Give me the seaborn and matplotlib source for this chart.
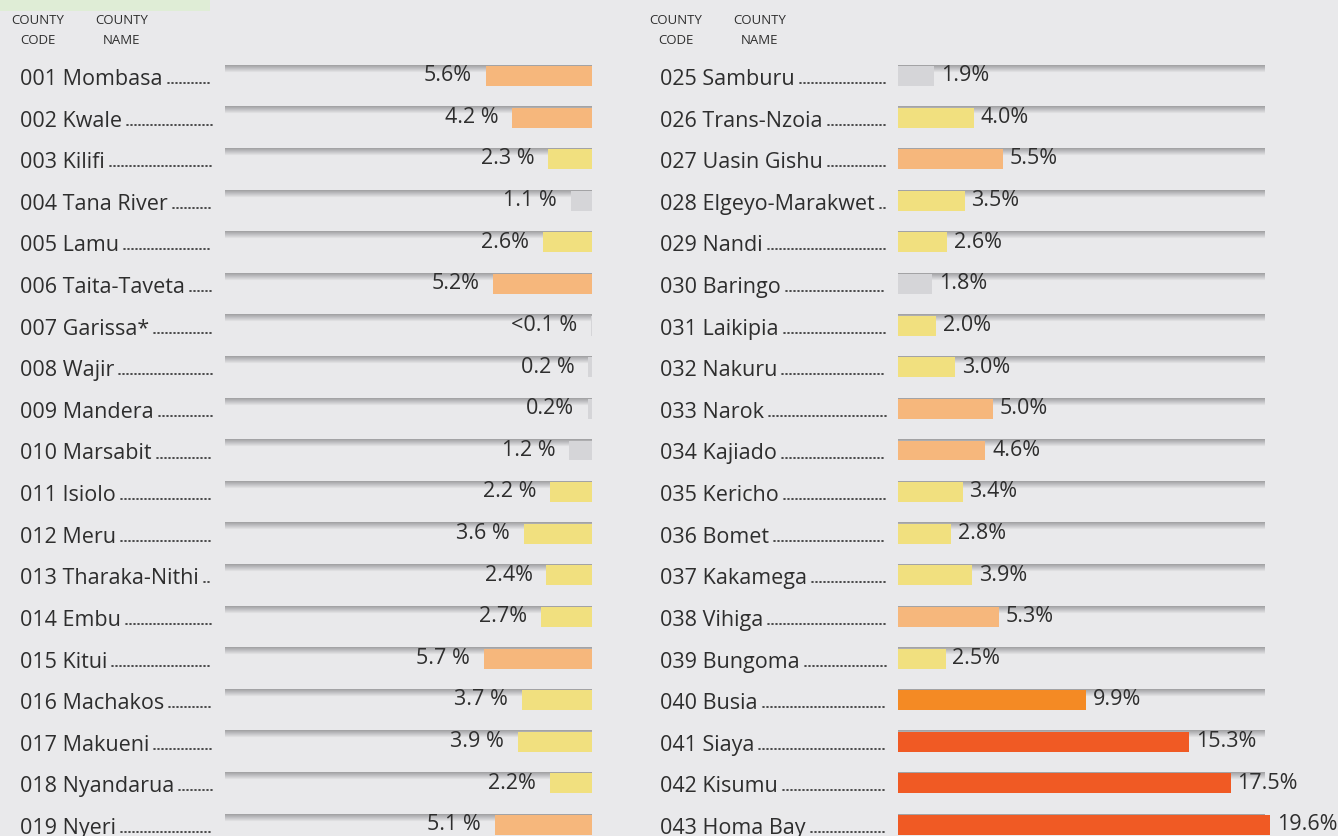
import numpy as np
import pandas as pd
import matplotlib
matplotlib.use("Agg")
import matplotlib.pyplot as plt
from matplotlib.lines import Line2D
from matplotlib.patches import Rectangle
import seaborn as sns

# ---------------- data ----------------
left_codes = ["001", "002", "003", "004", "005", "006", "007", "008", "009", "010",
              "011", "012", "013", "014", "015", "016", "017", "018", "019"]
left_names = ["Mombasa", "Kwale", "Kilifi", "Tana River", "Lamu", "Taita-Taveta",
              "Garissa*", "Wajir", "Mandera", "Marsabit", "Isiolo", "Meru",
              "Tharaka-Nithi", "Embu", "Kitui", "Machakos", "Makueni", "Nyandarua", "Nyeri"]
left_values = [5.6, 4.2, 2.3, 1.1, 2.6, 5.2, 0.05, 0.2, 0.2, 1.2,
               2.2, 3.6, 2.4, 2.7, 5.7, 3.7, 3.9, 2.2, 5.1]
left_labels = ["5.6%", "4.2 %", "2.3 %", "1.1 %", "2.6%", "5.2%", "<0.1 %", "0.2 %", "0.2%",
               "1.2 %", "2.2 %", "3.6 %", "2.4%", "2.7%", "5.7 %", "3.7 %", "3.9 %", "2.2%", "5.1 %"]

right_codes = ["025", "026", "027", "028", "029", "030", "031", "032", "033", "034",
               "035", "036", "037", "038", "039", "040", "041", "042", "043"]
right_names = ["Samburu", "Trans-Nzoia", "Uasin Gishu", "Elgeyo-Marakwet", "Nandi", "Baringo",
               "Laikipia", "Nakuru", "Narok", "Kajiado", "Kericho", "Bomet", "Kakamega",
               "Vihiga", "Bungoma", "Busia", "Siaya", "Kisumu", "Homa Bay"]
right_values = [1.9, 4.0, 5.5, 3.5, 2.6, 1.8, 2.0, 3.0, 5.0, 4.6,
                3.4, 2.8, 3.9, 5.3, 2.5, 9.9, 15.3, 17.5, 19.6]
right_labels = ["1.9%", "4.0%", "5.5%", "3.5%", "2.6%", "1.8%", "2.0%", "3.0%", "5.0%", "4.6%",
                "3.4%", "2.8%", "3.9%", "5.3%", "2.5%", "9.9%", "15.3%", "17.5%", "19.6%"]

class_bins = [2.0, 4.1, 9.0, 10.0]
class_colors = {0: "#d5d5d8", 1: "#f1e07f", 2: "#f6b77c", 3: "#f48a24", 4: "#f05a24"}

# ---------------- style ----------------
BG = "#e9e9eb"
TXT = "#2e2e2e"
W, H = 1338, 837
PXPCT = 19.0              # pixels per percent
TRACK_MAX = 367 / PXPCT   # full length of the grey track

sns.set_theme(style="white")
plt.rcParams["font.family"] = ["Open Sans", "DejaVu Sans"]

fig = plt.figure(figsize=(W / 100, H / 100), dpi=100, facecolor=BG)

def fx(x):
    return x / W

def fy(y):
    return 1 - y / H

# faint green box at top-left (cropped header)
fig.patches.append(Rectangle((0, fy(12)), fx(210), 12 / H, transform=fig.transFigure,
                             facecolor="#dfedd6", edgecolor="none", zorder=0))

row_top, row_bot = 77, 826
n = len(left_values)
step = (row_bot - row_top) / (n - 1)
ax_top = row_top - step / 2
ax_bottom = row_bot + step / 2

grad_cols = np.linspace([0.64, 0.64, 0.65], [0.91, 0.91, 0.92], 8).reshape(8, 1, 3)


def panel(ax_left_px, ax_width_px, codes, names, values, labels, side):
    ax = fig.add_axes([fx(ax_left_px), fy(ax_bottom), ax_width_px / W, (ax_bottom - ax_top) / H])
    ax.set_facecolor("none")
    df = pd.DataFrame({
        "label": [f"{c} {nm}" for c, nm in zip(codes, names)],
        "value": values,
        "cls": np.digitize(values, class_bins),
    })
    # grey tracks
    for i in range(n):
        ax.imshow(grad_cols, extent=(0, TRACK_MAX, i - 0.08, i - 0.26), aspect="auto",
                  interpolation="bilinear", zorder=0.5)
    sns.barplot(data=df, x="value", y="label", hue="cls", palette=class_colors,
                dodge=False, width=0.48, legend=False, orient="h", ax=ax,
                linewidth=0, saturation=1, zorder=2)
    xmax = ax_width_px / PXPCT
    if side == "left":
        ax.set_xlim(xmax, 0)
    else:
        ax.set_xlim(0, xmax)
    ax.set_ylim(n - 0.5, -0.5)
    ax.set_axis_off()
    for i, (v, lab) in enumerate(zip(values, labels)):
        if side == "left":
            ax.annotate(lab, xy=(v, i - 0.03), xytext=(-10, 0), textcoords="offset points",
                        ha="right", va="center", fontsize=15.5, color=TXT, zorder=3)
        else:
            ax.annotate(lab, xy=(v, i - 0.03), xytext=(5, 0), textcoords="offset points",
                        ha="left", va="center", fontsize=15.5, color=TXT, zorder=3)
    return ax, df


axL, dfL = panel(225, 367, left_codes, left_names, left_values, left_labels, "left")
axR, dfR = panel(898, 440, right_codes, right_names, right_values, right_labels, "right")

# row names with dotted leaders
name_texts = []
for df, x0, xend in [(dfL, 20, 212), (dfR, 660, 886)]:
    for i, lab in enumerate(df["label"]):
        yb = row_top + i * step + 8
        t = fig.text(fx(x0), fy(yb), lab, ha="left", va="baseline", fontsize=15.5, color=TXT)
        name_texts.append((t, xend, yb))

# column headers
for cx, top, bot in [(38, "COUNTY", "CODE"), (122, "COUNTY", "NAME"),
                     (676, "COUNTY", "CODE"), (760, "COUNTY", "NAME")]:
    fig.text(fx(cx), fy(20), top, ha="center", va="center", fontsize=9.5, color=TXT)
    fig.text(fx(cx), fy(40), bot, ha="center", va="center", fontsize=9.5, color=TXT)

fig.canvas.draw()
renderer = fig.canvas.get_renderer()
for t, xend, yb in name_texts:
    bb = t.get_window_extent(renderer)
    xs = bb.x1 + 5
    if xend - xs > 4:
        fig.lines.append(Line2D([fx(xs), fx(xend)], [fy(yb - 1), fy(yb - 1)],
                                transform=fig.transFigure, color=TXT, linewidth=1.2,
                                linestyle=(0, (0.6, 1.8)), dash_capstyle="round"))

fig.savefig("out.png", dpi=100, facecolor=BG)
